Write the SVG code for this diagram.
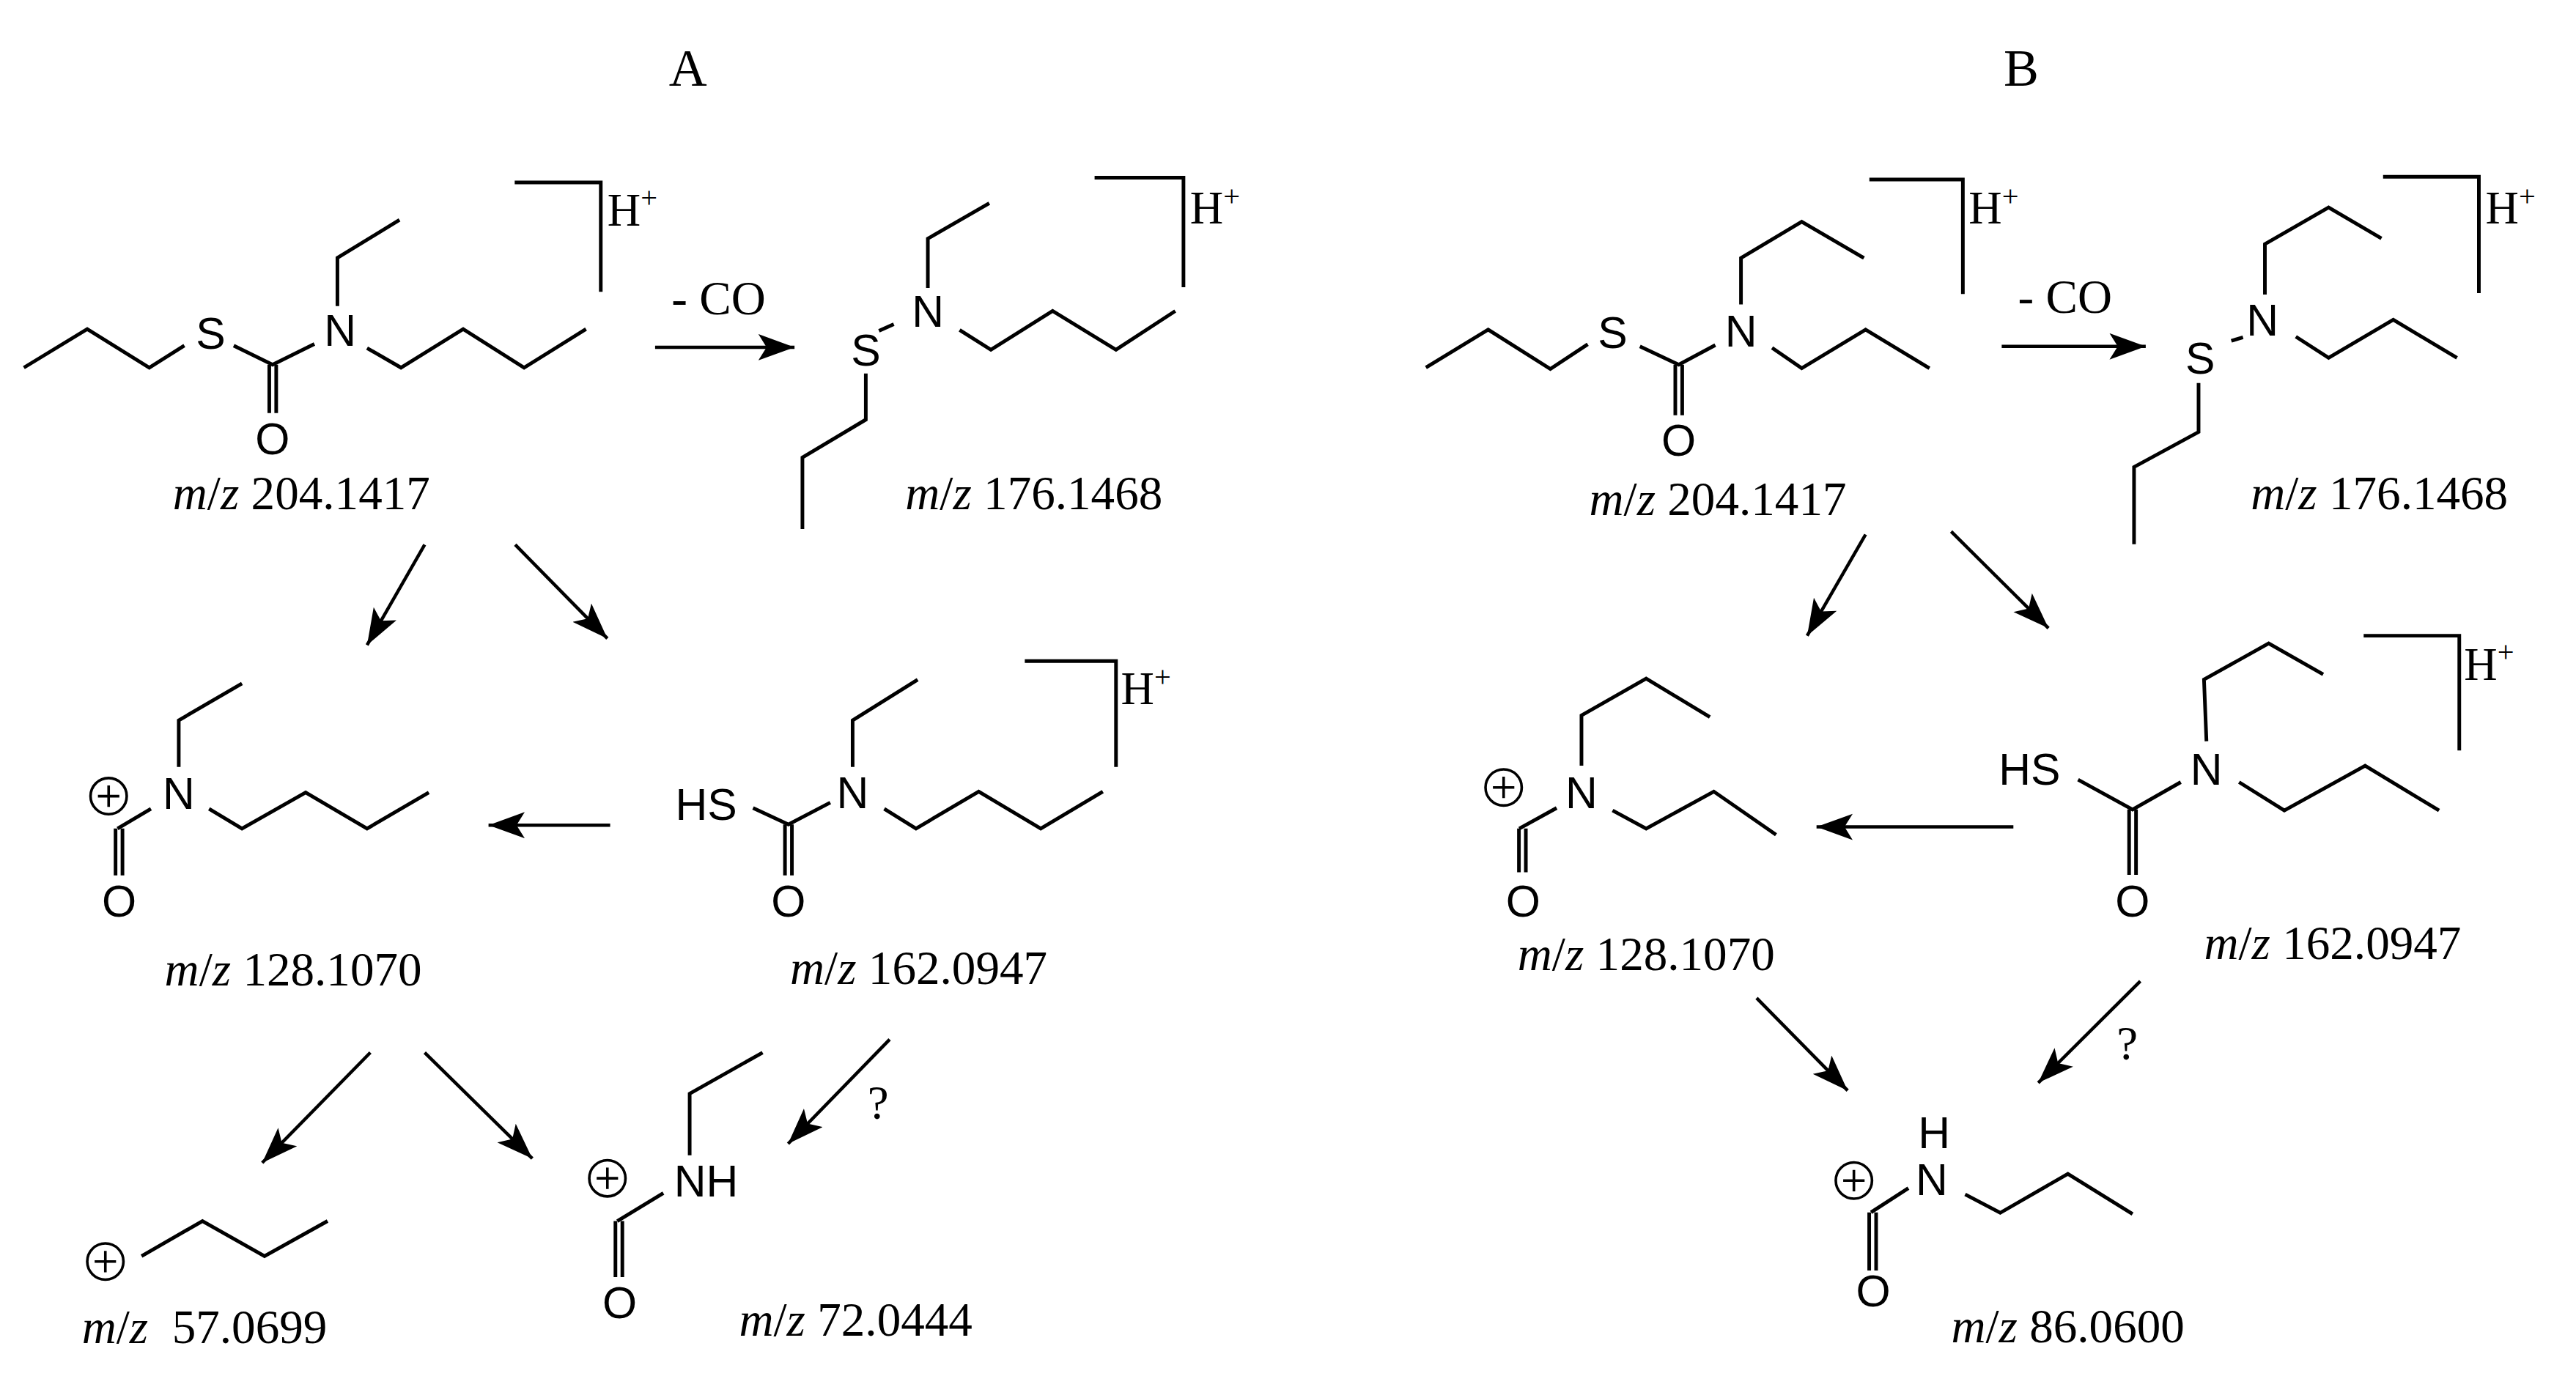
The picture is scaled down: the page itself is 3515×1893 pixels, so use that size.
<svg xmlns="http://www.w3.org/2000/svg" width="3515" height="1893" viewBox="0 0 3515 1893">
<style>
.b{fill:none;stroke:#000;stroke-width:2.2;stroke-linecap:butt;stroke-linejoin:miter}
.a{fill:none;stroke:#000;stroke-width:2;marker-end:url(#ah)}
.at{font-family:"Liberation Sans",Arial,sans-serif;font-size:27px;text-anchor:middle}
.mz{font-family:"Liberation Serif","Times New Roman",serif;font-size:29px}
.hp{font-family:"Liberation Serif","Times New Roman",serif;font-size:28px}
.ttl{font-family:"Liberation Serif","Times New Roman",serif;font-size:32px;text-anchor:middle}
.ch{fill:none;stroke:#000;stroke-width:1.6}
</style>
<defs>
<marker id="ah" markerUnits="userSpaceOnUse" markerWidth="26" markerHeight="18" refX="22" refY="8" orient="auto">
<path d="M0,0 L22,8 L0,16 L5,8 Z" fill="#000"/>
</marker>
<g id="cp"><circle class="ch" cx="0" cy="0" r="11"/><path class="ch" d="M-6.5,0H6.5M0,-6.5V6.5"/></g>
</defs>
<rect width="3515" height="1893" fill="#fff"/>
<g transform="scale(2.246)">
<text class="ttl" x="418" y="52">A</text>
<text class="ttl" x="1228" y="52">B</text>

<g id="A204">
<path class="b" d="M14.5,223.4 L53,200 L90.7,223.4 L112,210"/>
<path class="b" d="M142,210 L165.6,221.6 L191,209"/>
<path class="b" d="M163.6,221.6 V251 M167.8,221.6 V251"/>
<path class="b" d="M205,186 V156.7 L242.7,133.6"/>
<path class="b" d="M223,211.5 L243.6,223.4 L281.4,200 L318.4,223.4 L356,200"/>
<path class="b" d="M312.7,110.9 H365 V177.3"/>
<text class="at" x="128" y="212">S</text>
<text class="at" x="206.6" y="210">N</text>
<text class="at" x="165.6" y="276">O</text>
<text class="hp" x="369" y="137">H<tspan font-size="18" dy="-11">+</tspan></text>
<text class="mz" x="105" y="309.5"><tspan font-style="italic">m</tspan>/<tspan font-style="italic">z</tspan> 204.1417</text>
</g>

<g id="A176">
<path class="b" d="M534,201 L543,197"/>
<path class="b" d="M563.7,175 V145 L601,123.5"/>
<path class="b" d="M583,200.5 L602,212.5 L639.5,189 L678,212.5 L714,189"/>
<path class="b" d="M526,227 V255 L487.5,278 V321.5"/>
<path class="b" d="M665,108 H719 V174.5"/>
<text class="at" x="526" y="222">S</text>
<text class="at" x="563.7" y="198.5">N</text>
<text class="hp" x="723" y="136">H<tspan font-size="18" dy="-11">+</tspan></text>
<text class="mz" x="550" y="309.5"><tspan font-style="italic">m</tspan>/<tspan font-style="italic">z</tspan> 176.1468</text>
</g>

<g id="A128">
<use href="#cp" x="66" y="483.8"/>
<path class="b" d="M108.6,466 V437.7 L147,415.4"/>
<path class="b" d="M127,491.5 L147,503.5 L185.7,481.6 L223,503.5 L260.5,481.6"/>
<path class="b" d="M91.7,491.5 L71.4,503.5"/>
<path class="b" d="M70.2,503.5 V532 M74.4,503.5 V532"/>
<text class="at" x="108.6" y="491.5">N</text>
<text class="at" x="72.4" y="557">O</text>
<text class="mz" x="100" y="599"><tspan font-style="italic">m</tspan>/<tspan font-style="italic">z</tspan> 128.1070</text>
</g>

<g id="A162">
<path class="b" d="M457.5,491 L479,501 L504.4,487.7"/>
<path class="b" d="M476.9,501 V532 M481.1,501 V532"/>
<path class="b" d="M518,466 V437.7 L557.5,413"/>
<path class="b" d="M537.2,491.5 L556.5,503.5 L594.6,481 L632.3,503.5 L670,481"/>
<path class="b" d="M622.6,401.7 H678 V466"/>
<text class="at" x="429" y="498">HS</text>
<text class="at" x="518" y="491">N</text>
<text class="at" x="479" y="557">O</text>
<text class="hp" x="681" y="428">H<tspan font-size="18" dy="-11">+</tspan></text>
<text class="mz" x="480" y="598"><tspan font-style="italic">m</tspan>/<tspan font-style="italic">z</tspan> 162.0947</text>
</g>

<g id="A57">
<use href="#cp" x="64" y="766.6"/>
<path class="b" d="M86,763.3 L123,742 L160.7,763.3 L199,742"/>
<text class="mz" x="49.7" y="816" xml:space="preserve"><tspan font-style="italic">m</tspan>/<tspan font-style="italic">z</tspan>  57.0699</text>
</g>

<g id="A72">
<use href="#cp" x="369" y="716"/>
<path class="b" d="M419,702 V664.6 L463.3,639.6"/>
<path class="b" d="M403,725 L375,742"/>
<path class="b" d="M373.9,742 V776 M378.1,742 V776"/>
<text class="at" x="429" y="727">NH</text>
<text class="at" x="376.5" y="801">O</text>
<text class="mz" x="449" y="811.5"><tspan font-style="italic">m</tspan>/<tspan font-style="italic">z</tspan> 72.0444</text>
</g>

<g id="B204">
<path class="b" d="M866.3,223.3 L904.1,200.3 L941.9,224.2 L964.6,209.2"/>
<path class="b" d="M996.3,210.5 L1019.9,221.6 L1042.1,209.7"/>
<path class="b" d="M1017.8,221.6 V252.3 M1022,221.6 V252.3"/>
<path class="b" d="M1057.7,185 V156.8 L1094.6,134.7 L1132.4,156.8"/>
<path class="b" d="M1076.6,211.4 L1094.6,223.8 L1133.4,200.3 L1172.2,223.8"/>
<path class="b" d="M1135.7,109.1 H1192.5 V178.7"/>
<text class="at" x="979.7" y="211.5">S</text>
<text class="at" x="1057.7" y="210.7">N</text>
<text class="at" x="1019.9" y="277">O</text>
<text class="hp" x="1196" y="136">H<tspan font-size="18" dy="-11">+</tspan></text>
<text class="mz" x="965.5" y="312.8"><tspan font-style="italic">m</tspan>/<tspan font-style="italic">z</tspan> 204.1417</text>
</g>

<g id="B176">
<path class="b" d="M1355.6,207.1 L1362.7,205"/>
<path class="b" d="M1376,179 V148.3 L1414.7,126.1 L1446.8,144.9"/>
<path class="b" d="M1394.8,204.6 L1414.7,217.4 L1454,194.3 L1492.7,217.4"/>
<path class="b" d="M1335.7,232.7 V262.5 L1296.5,283.8 V330.7"/>
<path class="b" d="M1447.8,107.4 H1506 V178.1"/>
<text class="at" x="1336.7" y="227">S</text>
<text class="at" x="1374.5" y="204">N</text>
<text class="hp" x="1510" y="136">H<tspan font-size="18" dy="-11">+</tspan></text>
<text class="mz" x="1367.4" y="309.4"><tspan font-style="italic">m</tspan>/<tspan font-style="italic">z</tspan> 176.1468</text>
</g>

<g id="B128">
<use href="#cp" x="913.5" y="478.5"/>
<path class="b" d="M960.8,465.3 V434.7 L1000.1,412.3 L1038.8,435.7"/>
<path class="b" d="M979.7,492.5 L1000.1,503.5 L1041.2,481 L1079,507.2"/>
<path class="b" d="M945.7,491 L923,503.5"/>
<path class="b" d="M922.8,503.5 V530 M927,503.5 V530"/>
<text class="at" x="960.8" y="491">N</text>
<text class="at" x="925.4" y="557">O</text>
<text class="mz" x="922" y="589.3"><tspan font-style="italic">m</tspan>/<tspan font-style="italic">z</tspan> 128.1070</text>
</g>

<g id="B162">
<path class="b" d="M1262.5,473.8 L1295.6,491.9 L1324.9,475.3"/>
<path class="b" d="M1293.5,491.9 V531.6 M1297.7,491.9 V531.6"/>
<path class="b" d="M1340.5,450.4 L1339,412.9 L1378.3,391 L1411.4,409.8"/>
<path class="b" d="M1360.3,475.3 L1387.8,492.5 L1436.9,465.3 L1481.8,492.5"/>
<path class="b" d="M1436,386.3 H1494.1 V456"/>
<text class="at" x="1233" y="477">HS</text>
<text class="at" x="1340.5" y="477">N</text>
<text class="at" x="1295.6" y="557">O</text>
<text class="hp" x="1497" y="413">H<tspan font-size="18" dy="-11">+</tspan></text>
<text class="mz" x="1339" y="583"><tspan font-style="italic">m</tspan>/<tspan font-style="italic">z</tspan> 162.0947</text>
</g>

<g id="B86">
<use href="#cp" x="1126.3" y="717.4"/>
<path class="b" d="M1193.9,725.8 L1215.2,737 L1256.3,713.3 L1295.6,737.7"/>
<path class="b" d="M1159.4,722 L1136.7,736.7"/>
<path class="b" d="M1135.6,736.7 V772 M1139.8,736.7 V772"/>
<text class="at" x="1175" y="697.5">H</text>
<text class="at" x="1173.6" y="726">N</text>
<text class="at" x="1138.1" y="794">O</text>
<text class="mz" x="1185.4" y="815.8"><tspan font-style="italic">m</tspan>/<tspan font-style="italic">z</tspan> 86.0600</text>
</g>

<g id="connectors">
<path class="a" d="M398,211 H482.7"/>
<path class="a" d="M258,331 L223,392"/>
<path class="a" d="M313,331 L369,388"/>
<path class="a" d="M370.7,501.4 H296.8"/>
<path class="a" d="M225,639.6 L159.3,706.6"/>
<path class="a" d="M258,639.6 L323.4,704"/>
<path class="a" d="M540.5,631.6 L478.8,695"/>
<text class="mz" x="527" y="680">?</text>
<text class="mz" x="408" y="191">- CO</text>
<path class="a" d="M1216.1,210.5 H1303.6"/>
<path class="a" d="M1133.4,324.8 L1097.9,386.3"/>
<path class="a" d="M1185.4,323 L1244.5,381.7"/>
<path class="a" d="M1223.2,502.5 H1103.6"/>
<path class="a" d="M1067.2,606.5 L1122.5,662.7"/>
<path class="a" d="M1300.3,596.2 L1238.3,658"/>
<text class="mz" x="1286" y="644">?</text>
<text class="mz" x="1226" y="190">- CO</text>
</g>
</g>
</svg>
